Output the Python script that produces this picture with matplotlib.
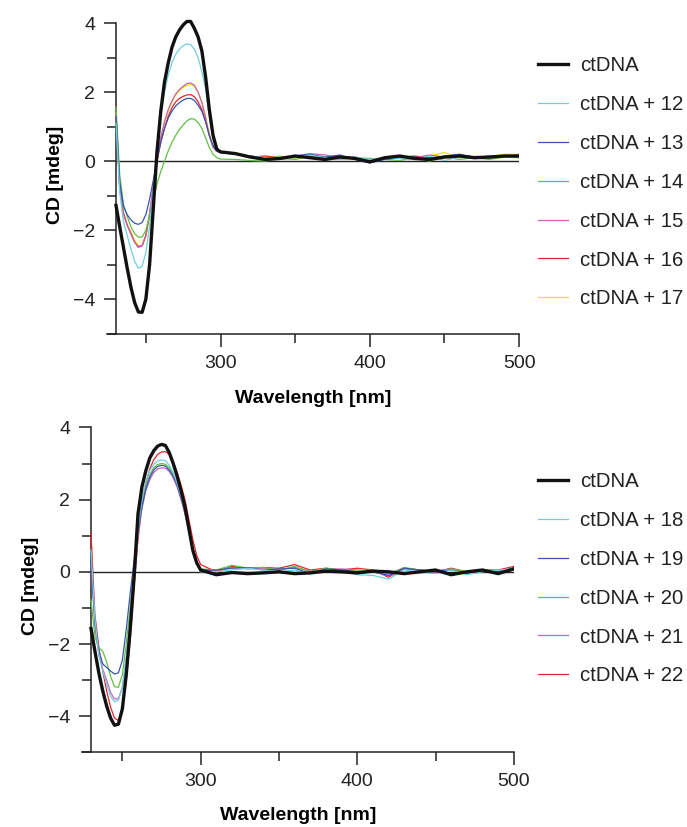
import numpy as np
import matplotlib
matplotlib.use("Agg")
import matplotlib.pyplot as plt
from matplotlib.ticker import MultipleLocator

plt.rcParams['font.family'] = ['Liberation Sans', 'DejaVu Sans']

# wavelength grid (nm)
wl_peak = [230, 232.5, 235, 237.5, 240, 242.5, 245, 247.5, 250, 252.5, 255, 257.5,
           260, 262.5, 265, 267.5, 270, 272.5, 275, 277.5, 280, 282.5, 285, 287.5,
           290, 292.5, 295, 297.5, 300]
wl_tail = [310, 320, 330, 340, 350, 360, 370, 380, 390, 400, 410, 420, 430, 440,
           450, 460, 470, 480, 490, 500]
wavelength = wl_peak + wl_tail

# ---------- top panel ----------
top_labels = ['ctDNA', 'ctDNA + 12', 'ctDNA + 13', 'ctDNA + 14', 'ctDNA + 15',
              'ctDNA + 16', 'ctDNA + 17']
top_ctDNA = [-1.28, -1.9, -2.5, -3.1, -3.65, -4.1, -4.37, -4.38, -4.0, -3.0, -1.35, 0.3,
             1.45, 2.3, 2.85, 3.3, 3.6, 3.8, 3.95, 4.05, 4.05, 3.85, 3.6, 3.2,
             2.45, 1.5, 0.75, 0.35, 0.27,
             0.22, 0.12, 0.05, 0.08, 0.15, 0.1, 0.05, 0.12, 0.08, -0.02, 0.1, 0.15, 0.08, 0.05,
             0.12, 0.15, 0.1, 0.12, 0.15, 0.15]
top_12 = [1.1, -0.9, -1.75, -2.15, -2.55, -2.9, -3.1, -3.05, -2.65, -1.9, -0.85, 0.3,
          1.3, 2.0, 2.5, 2.85, 3.1, 3.25, 3.35, 3.4, 3.38, 3.25, 3.0, 2.6,
          2.1, 1.3, 0.65, 0.33, 0.25,
          0.2, 0.15, 0.1, 0.12, 0.1, 0.18, 0.1, 0.06, 0.12, 0.05, 0.1, 0.08, 0.05, 0.15,
          0.02, 0.12, 0.08, 0.15, 0.12, 0.18]
top_13 = [1.3, -0.6, -1.3, -1.55, -1.7, -1.8, -1.83, -1.78, -1.55, -1.1, -0.55, 0.05,
          0.55, 0.95, 1.25, 1.45, 1.6, 1.7, 1.77, 1.82, 1.82, 1.76, 1.62, 1.45,
          1.15, 0.75, 0.45, 0.3, 0.25,
          0.22, 0.15, 0.08, 0.1, 0.15, 0.2, 0.12, 0.18, 0.05, -0.05, 0.05, 0.1, 0.12, 0.08,
          0.15, 0.2, 0.12, 0.1, 0.15, 0.15]
top_14 = [1.57, -0.4, -1.25, -1.6, -1.9, -2.1, -2.2, -2.2, -2.0, -1.6, -1.15, -0.65,
          -0.3, 0.0, 0.3, 0.55, 0.75, 0.92, 1.05, 1.17, 1.23, 1.22, 1.12, 0.95,
          0.68, 0.4, 0.2, 0.1, 0.06,
          0.05, 0.02, 0.0, 0.08, 0.05, 0.15, 0.1, 0.05, 0.1, 0.08, 0.05, 0.02, 0.1, 0.0,
          0.12, 0.05, 0.1, 0.05, 0.12, 0.1]
top_15 = [1.4, -0.8, -1.55, -1.85, -2.1, -2.35, -2.5, -2.45, -2.15, -1.5, -0.7, 0.1,
          0.7, 1.15, 1.5, 1.75, 1.95, 2.08, 2.17, 2.25, 2.27, 2.2, 2.0, 1.7,
          1.25, 0.75, 0.4, 0.28, 0.25,
          0.2, 0.15, 0.1, 0.05, 0.15, 0.22, 0.18, 0.1, 0.12, 0.0, 0.08, 0.12, 0.1, 0.18,
          0.12, 0.2, 0.1, 0.15, 0.12, 0.2]
top_16 = [1.38, -0.8, -1.5, -1.85, -2.1, -2.35, -2.48, -2.45, -2.15, -1.55, -0.75, 0.0,
          0.55, 0.95, 1.3, 1.55, 1.72, 1.82, 1.88, 1.92, 1.93, 1.87, 1.72, 1.5,
          1.15, 0.75, 0.42, 0.3, 0.26,
          0.2, 0.12, 0.15, 0.1, 0.12, 0.15, 0.1, 0.12, 0.1, 0.02, 0.1, 0.12, 0.15, 0.1,
          0.12, 0.18, 0.12, 0.1, 0.15, 0.15]
top_17 = [1.4, -0.7, -1.5, -1.85, -2.05, -2.3, -2.45, -2.45, -2.2, -1.6, -0.8, 0.0,
          0.65, 1.1, 1.45, 1.72, 1.92, 2.05, 2.14, 2.2, 2.22, 2.17, 2.0, 1.72,
          1.3, 0.8, 0.45, 0.3, 0.26,
          0.22, 0.1, 0.12, 0.15, 0.08, 0.15, 0.12, 0.1, 0.05, 0.02, 0.08, 0.1, 0.12, 0.15,
          0.25, 0.1, 0.15, 0.12, 0.2, 0.2]
top_series = [top_ctDNA, top_12, top_13, top_14, top_15, top_16, top_17]

# ---------- bottom panel ----------
bot_labels = ['ctDNA', 'ctDNA + 18', 'ctDNA + 19', 'ctDNA + 20', 'ctDNA + 21', 'ctDNA + 22']
bot_ctDNA = [-1.57, -2.2, -2.8, -3.3, -3.72, -4.05, -4.25, -4.22, -3.8, -2.85, -1.6, -0.15,
             1.6, 2.35, 2.8, 3.15, 3.35, 3.48, 3.53, 3.5, 3.3, 3.0, 2.65, 2.25,
             1.8, 1.2, 0.6, 0.25, 0.05,
             -0.08, -0.02, -0.05, -0.03, 0.0, -0.05, -0.03, 0.02, 0.0, -0.03, 0.02, 0.0, -0.05, 0.0,
             0.05, -0.08, 0.0, 0.05, -0.05, 0.08]
bot_18 = [0.6, -1.3, -2.3, -2.75, -3.1, -3.45, -3.6, -3.55, -3.2, -2.4, -1.3, -0.1,
          1.2, 2.0, 2.5, 2.8, 2.98, 3.07, 3.1, 3.08, 2.95, 2.75, 2.45, 2.1,
          1.7, 1.15, 0.6, 0.2, 0.0,
          0.0, 0.05, 0.1, 0.05, 0.0, 0.05, -0.05, 0.05, 0.0, -0.08, -0.1, -0.2, 0.05, 0.0,
          -0.05, 0.05, -0.08, 0.0, 0.05, 0.08]
bot_19 = [0.3, -1.4, -2.2, -2.55, -2.65, -2.75, -2.83, -2.8, -2.45, -1.6, -0.6, 0.3,
          1.1, 1.8, 2.3, 2.62, 2.82, 2.92, 2.95, 2.93, 2.82, 2.65, 2.4, 2.05,
          1.65, 1.15, 0.65, 0.25, 0.05,
          0.05, 0.1, 0.12, 0.05, 0.08, 0.1, -0.05, 0.08, 0.05, 0.0, 0.0, -0.1, 0.1, 0.05,
          0.0, 0.05, -0.05, 0.05, 0.0, 0.1]
bot_20 = [-0.78, -1.8, -2.1, -2.2, -2.5, -2.9, -3.18, -3.2, -2.85, -2.0, -1.0, 0.1,
          1.1, 1.85, 2.35, 2.68, 2.88, 2.97, 3.0, 2.98, 2.88, 2.7, 2.45, 2.1,
          1.7, 1.2, 0.65, 0.25, 0.08,
          0.05, 0.18, 0.1, 0.12, 0.05, 0.15, 0.0, 0.1, 0.05, 0.02, 0.05, -0.05, 0.12, 0.05,
          0.02, 0.08, 0.0, 0.05, 0.02, 0.1]
bot_21 = [0.2, -1.5, -2.3, -2.7, -3.0, -3.35, -3.52, -3.52, -3.2, -2.4, -1.35, -0.2,
          0.95, 1.75, 2.25, 2.55, 2.75, 2.85, 2.88, 2.87, 2.78, 2.6, 2.35, 2.0,
          1.6, 1.1, 0.6, 0.25, 0.05,
          0.02, 0.12, 0.08, 0.1, 0.05, 0.12, 0.02, 0.08, 0.08, 0.05, 0.0, -0.1, 0.08, 0.05,
          0.0, 0.08, -0.02, 0.05, 0.0, 0.12]
bot_22 = [1.08, -1.2, -2.1, -2.75, -3.3, -3.75, -4.05, -4.12, -3.8, -3.0, -1.9, -0.4,
          0.9, 1.85, 2.45, 2.85, 3.1, 3.25, 3.32, 3.33, 3.25, 3.05, 2.75, 2.4,
          2.0, 1.45, 0.9, 0.45, 0.2,
          0.0, 0.15, 0.1, 0.12, 0.1, 0.2, 0.05, 0.1, 0.05, 0.1, 0.05, -0.15, 0.1, 0.05,
          0.0, 0.1, 0.0, 0.05, 0.05, 0.15]
bot_series = [bot_ctDNA, bot_18, bot_19, bot_20, bot_21, bot_22]

top_colors = ['#111111', '#6fcfe0', '#3a56b0', '#62bf45', '#c662b8', '#e8242c', '#f2e200']
bot_colors = ['#111111', '#6fcfe0', '#3a56b0', '#62bf45', '#c662b8', '#e8242c']

FS = 14
LEG_FS = 14.7

fig = plt.figure(figsize=(6.87, 8.27), dpi=100)
ax_top = fig.add_axes([0.1558, 0.5965, 0.5998, 0.3838])
ax_bot = fig.add_axes([0.1188, 0.0903, 0.6291, 0.4016])


def style(ax, series, labels, colors, leg_x, leg_y, xpad):
    handles = [None] * len(series)
    for i in range(len(series) - 1, -1, -1):
        lw = 2.4 if i == 0 else 0.9
        z = 5 if i == 0 else 3
        ln, = ax.plot(wavelength, series[i], color=colors[i], lw=lw, zorder=z,
                      solid_joinstyle='round')
        handles[i] = ln
    ax.hlines(0, wavelength[0], wavelength[-1], color='#222222', lw=1.0, zorder=2)
    ax.set_xlim(224, 500)
    ax.set_ylim(-5, 4.2)
    for s in ['top', 'right']:
        ax.spines[s].set_visible(False)
    ax.spines['left'].set_position(('data', 230))
    ax.spines['left'].set_bounds(-5, 4)
    ax.spines['bottom'].set_bounds(224, 500)
    for s in ['left', 'bottom']:
        ax.spines[s].set_linewidth(1.1)
        ax.spines[s].set_color('#222222')
    ax.xaxis.set_minor_locator(MultipleLocator(50))
    ax.set_xticks([300, 400, 500])
    ax.yaxis.set_minor_locator(MultipleLocator(1))
    ax.set_yticks([-4, -2, 0, 2, 4])
    ax.tick_params(which='major', length=9, width=1.1, direction='out',
                   labelsize=FS, pad=6, color='#222222', labelcolor='#222222')
    ax.tick_params(which='minor', length=6.5, width=1.1, direction='out', color='#222222')
    ax.set_xlabel('Wavelength [nm]', fontsize=FS, fontweight='bold', labelpad=xpad)
    ax.set_ylabel('CD [mdeg]', fontsize=FS, fontweight='bold', labelpad=6)
    leg = ax.legend(handles, labels, loc='center left',
                    bbox_to_anchor=(leg_x, leg_y), bbox_transform=fig.transFigure,
                    frameon=False, fontsize=LEG_FS, handlelength=1.45,
                    handletextpad=0.6, labelspacing=0.97, borderpad=0, borderaxespad=0)
    for t in leg.get_texts():
        t.set_color('#222222')
    return leg


style(ax_top, top_series, top_labels, top_colors, 538 / 687, 1 - 182.4 / 827, 13.5)
style(ax_bot, bot_series, bot_labels, bot_colors, 538 / 687, 1 - 578.9 / 827, 12)

fig.savefig('out.png', dpi=100)
